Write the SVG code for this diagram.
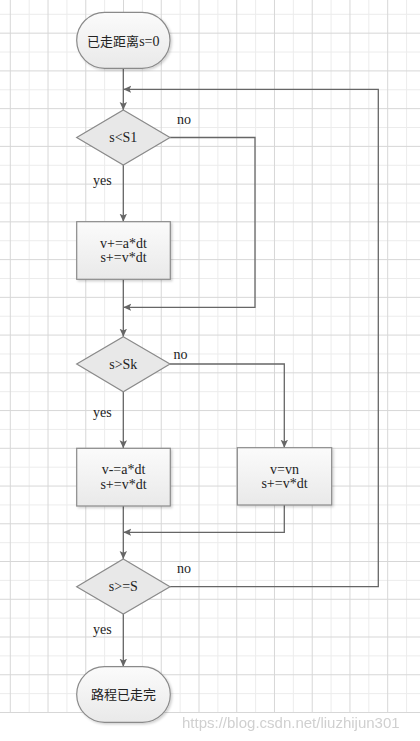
<svg xmlns="http://www.w3.org/2000/svg" width="420" height="741" viewBox="0 0 420 741">
  <defs>
    <linearGradient id="gBox" x1="0" y1="0" x2="0" y2="1">
      <stop offset="0" stop-color="#fbfbfb"/>
      <stop offset="1" stop-color="#e9e9e9"/>
    </linearGradient>
    <filter id="sh" x="-10%" y="-10%" width="125%" height="130%">
      <feDropShadow dx="1.5" dy="1.5" stdDeviation="1.2" flood-color="#000" flood-opacity="0.18"/>
    </filter>
    <marker id="arr" markerUnits="userSpaceOnUse" markerWidth="9" markerHeight="9" refX="8" refY="4" orient="auto">
      <path d="M0,0.3 L8,4 L0,7.7 L1.8,4 z" fill="#666"/>
    </marker>
  </defs>
  <style>
    .gd { stroke: #d7d7d7; stroke-width: 1; fill: none; }
    .gl { stroke: #ececec; stroke-width: 1; fill: none; }
    .node { fill: url(#gBox); stroke: #8a8a8a; stroke-width: 1.2; }
    .dia { fill: #e8e8e8; stroke: #8a8a8a; stroke-width: 1.2; }
    .conn { fill: none; stroke: #666; stroke-width: 1.3; }
    .t { font-family: "Liberation Serif", "Noto Sans CJK SC", serif; font-size: 14px; fill: #222; text-anchor: middle; }
    .zh { font-family: "Noto Sans CJK SC", "Liberation Sans", sans-serif; font-size: 13px; fill: #222; text-anchor: middle; }
    .lbl { font-family: "Liberation Serif", serif; font-size: 14px; fill: #222; }
    .wm { font-family: "Liberation Sans", sans-serif; font-size: 15px; fill: #c8c8c8; opacity: 0.85; }
  </style>
  <rect width="420" height="741" fill="#ffffff"/>
  <g id="grid">
    <path class="gl" d="M29.17 0V712.5M66.91 0V712.5M104.65 0V712.5M142.39 0V712.5M180.13 0V712.5M217.87 0V712.5M255.61 0V712.5M293.35 0V712.5M331.09 0V712.5M368.83 0V712.5M406.57 0V712.5M0 14.3H420M0 52.04H420M0 89.78H420M0 127.52H420M0 165.26H420M0 203H420M0 240.74H420M0 278.48H420M0 316.22H420M0 353.96H420M0 391.7H420M0 429.44H420M0 467.18H420M0 504.92H420M0 542.66H420M0 580.4H420M0 618.14H420M0 655.88H420M0 693.62H420"/>
    <path class="gd" d="M10.3 0V712.5M48.04 0V712.5M85.78 0V712.5M123.52 0V712.5M161.26 0V712.5M199 0V712.5M236.74 0V712.5M274.48 0V712.5M312.22 0V712.5M349.96 0V712.5M387.7 0V712.5M0 33.17H420M0 70.91H420M0 108.65H420M0 146.39H420M0 184.13H420M0 221.87H420M0 259.61H420M0 297.35H420M0 335.09H420M0 372.83H420M0 410.57H420M0 448.31H420M0 486.05H420M0 523.79H420M0 561.53H420M0 599.27H420M0 637.01H420M0 674.75H420M0 712.49H420"/>
  </g>
  <g id="connectors">
    <path class="conn" d="M123.3 68.3V110" marker-end="url(#arr)"/>
    <path class="conn" d="M170 137.5H255V307.3H123.3" marker-end="url(#arr)"/>
    <path class="conn" d="M123.3 165V221.7" marker-end="url(#arr)"/>
    <path class="conn" d="M123.3 279.3V336.7" marker-end="url(#arr)"/>
    <path class="conn" d="M170 364H284.3V447.7" marker-end="url(#arr)"/>
    <path class="conn" d="M123.3 391.7V448.3" marker-end="url(#arr)"/>
    <path class="conn" d="M284.3 505V532.3H123.3" marker-end="url(#arr)"/>
    <path class="conn" d="M123.3 506V559" marker-end="url(#arr)"/>
    <path class="conn" d="M170 586.7H378.3V89.3H123.3" marker-end="url(#arr)"/>
    <path class="conn" d="M123.3 614V666.7" marker-end="url(#arr)"/>
    <text class="lbl" x="177" y="123.5">no</text>
    <text class="lbl" x="93" y="184.5">yes</text>
    <text class="lbl" x="173.5" y="358.5">no</text>
    <text class="lbl" x="93" y="416.5">yes</text>
    <text class="lbl" x="177" y="572.5">no</text>
    <text class="lbl" x="93" y="633.5">yes</text>
  </g>
  <g id="start">
    <rect class="node" filter="url(#sh)" x="76.7" y="12.3" width="93.3" height="56" rx="28" ry="28"/>
    <text class="zh" x="123.3" y="45.5">已走距离<tspan font-family="Liberation Serif, serif" font-size="14">s=0</tspan></text>
  </g>
  <g id="d1">
    <polygon class="dia" points="123.3,110 170,137.5 123.3,165 76.7,137.5"/>
    <text class="t" x="123.3" y="142">s&lt;S1</text>
  </g>
  <g id="box1">
    <rect class="node" filter="url(#sh)" x="76.7" y="221.7" width="93.6" height="57.6"/>
    <text class="t" x="123.5" y="247.5">v+=a*dt</text>
    <text class="t" x="123.5" y="261.5">s+=v*dt</text>
  </g>
  <g id="d2">
    <polygon class="dia" points="123.3,336.7 170,364 123.3,391.7 76.7,364"/>
    <text class="t" x="123.3" y="368.5">s&gt;Sk</text>
  </g>
  <g id="box2">
    <rect class="node" filter="url(#sh)" x="76.7" y="448.3" width="93.6" height="57.7"/>
    <text class="t" x="123.5" y="474.2">v-=a*dt</text>
    <text class="t" x="123.5" y="488.5">s+=v*dt</text>
  </g>
  <g id="box3">
    <rect class="node" filter="url(#sh)" x="237.3" y="447.7" width="94.4" height="57.3"/>
    <text class="t" x="284.5" y="473.5">v=vn</text>
    <text class="t" x="284.5" y="488.2">s+=v*dt</text>
  </g>
  <g id="d3">
    <polygon class="dia" points="123.3,559 170,586.7 123.3,614 76.7,586.7"/>
    <text class="t" x="123.3" y="591">s&gt;=S</text>
  </g>
  <g id="end">
    <rect class="node" filter="url(#sh)" x="76.7" y="666.7" width="93.6" height="55.6" rx="27.8" ry="27.8"/>
    <text class="zh" x="123.5" y="698.5">路程已走完</text>
  </g>
  <text class="wm" x="182" y="728">https://blog.csdn.net/liuzhijun301</text>
</svg>
